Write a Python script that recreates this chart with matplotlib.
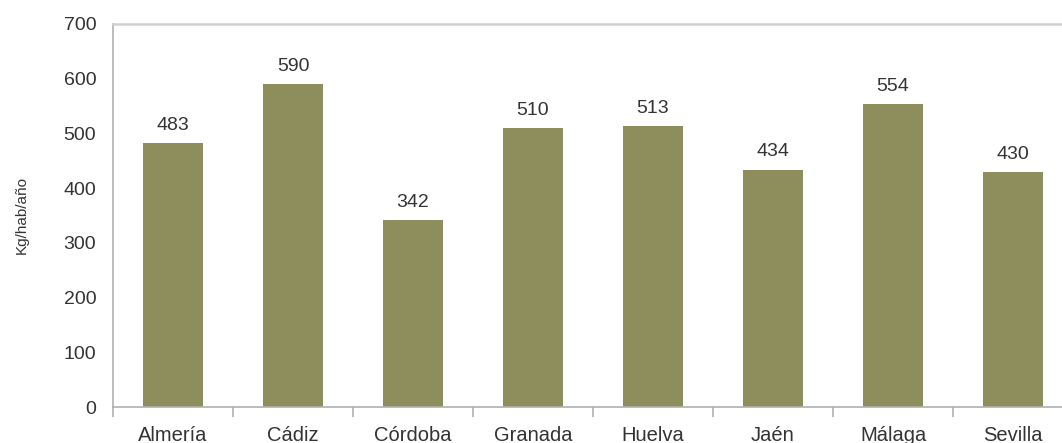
import numpy as np
import matplotlib.pyplot as plt

plt.rcParams['font.family'] = ['Liberation Sans', 'DejaVu Sans']

# Data
provincias = ['Almería', 'Cádiz', 'Córdoba', 'Granada', 'Huelva', 'Jaén', 'Málaga', 'Sevilla']
valores = [483, 590, 342, 510, 513, 434, 554, 430]
yticks = [0, 100, 200, 300, 400, 500, 600, 700]

fig = plt.figure(figsize=(10.62, 4.43), dpi=100)
ax = fig.add_axes([113 / 1062, 36 / 443, 960 / 1062, 383 / 443])

x = np.arange(len(provincias))
bars = ax.bar(x, valores, width=0.5, color='#8e8d5c')

for b, v in zip(bars, valores):
    ax.text(b.get_x() + b.get_width() / 2, v + 24, str(v), ha='center', va='baseline',
            fontsize=14, color='#333333')

ax.set_xlim(-0.5, len(provincias) - 0.5)
ax.set_ylim(0, 700)
ax.set_yticks(yticks)
ax.set_xticks(x)
ax.set_xticklabels(provincias)
ax.set_xticks(np.arange(-0.5, len(provincias)), minor=True)

ax.tick_params(axis='y', length=0, pad=12, labelsize=14, labelcolor='#333333')
ax.tick_params(axis='x', which='major', length=0, pad=14, labelsize=14.5, labelcolor='#333333')
ax.tick_params(axis='x', which='minor', length=7, width=1.2, color='#b0b0b0')

ax.set_ylabel('Kg/hab/año', fontsize=11, color='#333333', labelpad=25)

for s in ['left', 'bottom']:
    ax.spines[s].set_color('#b0b0b0')
    ax.spines[s].set_linewidth(1.2)
ax.spines['top'].set_color('#d0d0d0')
ax.spines['top'].set_linewidth(1.8)
ax.spines['right'].set_visible(False)

fig.savefig('out.png', dpi=100)
